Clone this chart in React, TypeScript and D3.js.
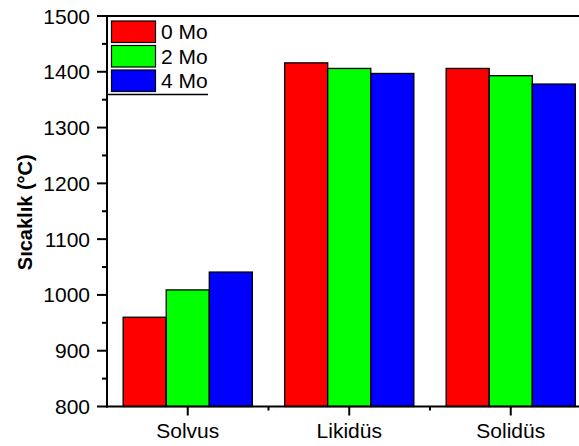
import React from "react";
import * as d3 from "d3";

const categories = ["Solvus", "Likidüs", "Solidüs"];
const seriesNames = ["0 Mo", "2 Mo", "4 Mo"];
const seriesColors = ["#ff0000", "#00ff00", "#0000ff"];
const mo0 = [960, 1416, 1406];
const mo2 = [1009, 1406, 1393];
const mo4 = [1041, 1397, 1378];
const yTicks = [800, 900, 1000, 1100, 1200, 1300, 1400, 1500];
const yMinorTicks = [850, 950, 1050, 1150, 1250, 1350, 1450];

const W = 579;
const H = 446;
const left = 107;
const top = 16;
const bottom = 406.5;
const bandW = 161.5;

export default function App() {
  const series = [mo0, mo2, mo4];
  const x = d3.scaleBand<string>().domain(categories).range([left, left + bandW * 3]).paddingInner(0.2).paddingOuter(0.1);
  const xs = d3.scaleBand<string>().domain(seriesNames).range([0, x.bandwidth()]);
  const y = d3.scaleLinear().domain([800, 1500]).range([bottom, top]);
  const font = "Arial, 'Liberation Sans', sans-serif";
  const centers = categories.map((c) => (x(c) as number) + x.bandwidth() / 2);
  const minorX = [left + bandW, left + 2 * bandW];

  return (
    <svg width={W} height={H} style={{ position: "absolute", left: 0, top: 0, background: "#fff" }} fontFamily={font}>
      <rect x={0} y={0} width={W} height={H} fill="#fff" />
      {categories.map((c, ci) =>
        series.map((s, si) => (
          <rect
            key={c + si}
            x={(x(c) as number) + (xs(seriesNames[si]) as number)}
            y={y(s[ci])}
            width={xs.bandwidth()}
            height={bottom - y(s[ci])}
            fill={seriesColors[si]}
            stroke="#000"
            strokeWidth={1.3}
          />
        ))
      )}
      {/* axes */}
      <line x1={left} x2={W + 2} y1={top} y2={top} stroke="#000" strokeWidth={2} />
      <line x1={left} x2={left} y1={top - 1} y2={bottom + 1} stroke="#000" strokeWidth={2} />
      <line x1={left - 1} x2={W + 2} y1={bottom} y2={bottom} stroke="#000" strokeWidth={2} />
      {yTicks.map((t) => (
        <g key={t}>
          <line x1={left - 10} x2={left} y1={y(t)} y2={y(t)} stroke="#000" strokeWidth={2} />
          <text x={left - 17} y={y(t)} dy="0.36em" textAnchor="end" fontSize={21} fill="#000">
            {t}
          </text>
        </g>
      ))}
      {yMinorTicks.map((t) => (
        <line key={t} x1={left - 5} x2={left} y1={y(t)} y2={y(t)} stroke="#000" strokeWidth={2} />
      ))}
      {categories.map((c, i) => (
        <g key={c}>
          <line x1={centers[i]} x2={centers[i]} y1={bottom} y2={bottom + 9} stroke="#000" strokeWidth={2} />
          <text x={centers[i]} y={bottom + 31.5} textAnchor="middle" fontSize={21} fill="#000">
            {c}
          </text>
        </g>
      ))}
      {minorX.map((mx) => (
        <line key={mx} x1={mx} x2={mx} y1={bottom} y2={bottom + 4} stroke="#000" strokeWidth={2} />
      ))}
      <text
        transform={`translate(25,${(top + bottom) / 2 + 1}) rotate(-90)`}
        textAnchor="middle"
        dy="0.36em"
        fontSize={20}
        fontWeight="bold"
        fill="#000"
      >
        Sıcaklık (°C)
      </text>
      {/* legend */}
      <line x1={left} x2={208} y1={94.5} y2={94.5} stroke="#000" strokeWidth={1.5} />
      {seriesNames.map((n, i) => (
        <g key={n}>
          <rect x={111.5} y={21 + i * 24.5} width={44} height={21.5} fill={seriesColors[i]} stroke="#000" strokeWidth={1.2} />
          <text x={161} y={31.5 + i * 24.5} dy="0.36em" fontSize={21} fill="#000">
            {n}
          </text>
        </g>
      ))}
    </svg>
  );
}
